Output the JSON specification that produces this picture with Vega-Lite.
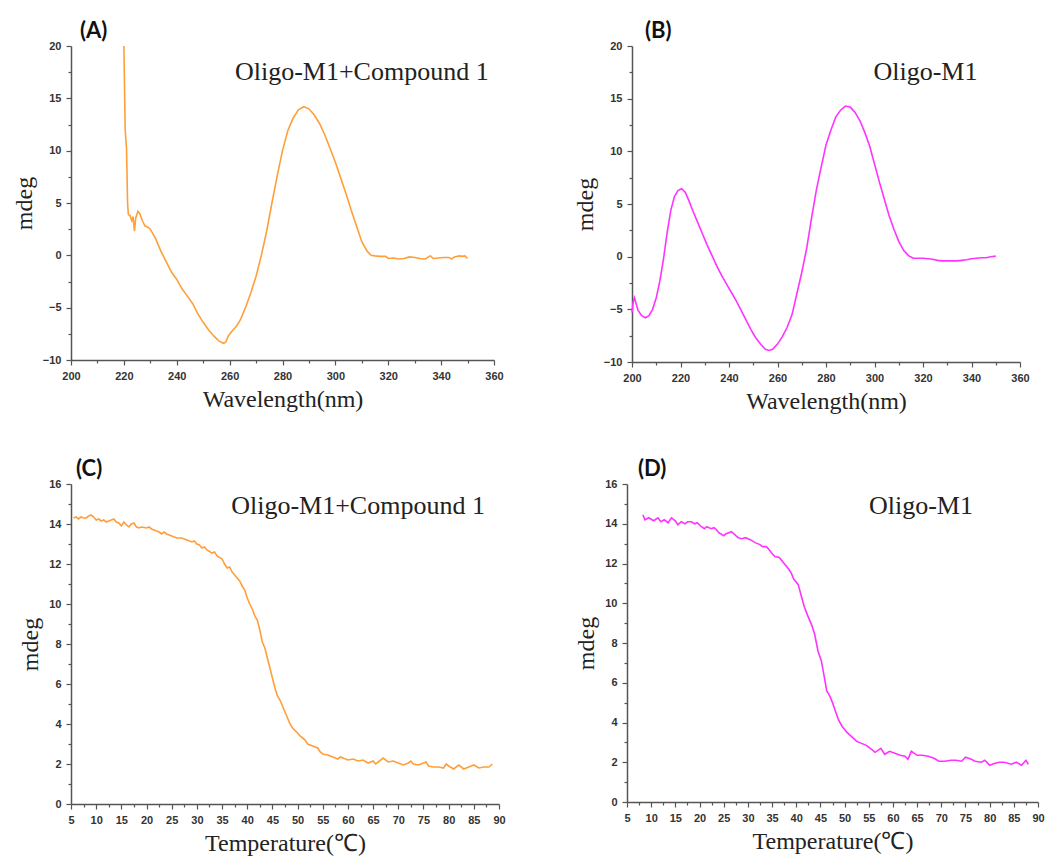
{
  "$schema": "https://vega.github.io/schema/vega-lite/v6.json",
  "background": "white",
  "padding": {"left": 12, "top": 20, "right": 5, "bottom": 5},
  "spacing": 45,
  "config": {
    "view": {"stroke": null},
    "axis": {
      "grid": false,
      "labelFont": "Liberation Sans",
      "labelFontWeight": "bold",
      "labelFontSize": 11,
      "labelColor": "#333",
      "labelFlush": false,
      "labelOverlap": false,
      "labelPadding": 5,
      "domainColor": "#555",
      "domainWidth": 1.5,
      "tickColor": "#555",
      "tickWidth": 1.2,
      "tickSize": 5,
      "titleFont": "Liberation Serif",
      "titleFontWeight": "normal",
      "titleFontSize": 24,
      "titleColor": "#222",
      "titlePadding": 6
    },
    "title": {"anchor": "start", "font": "Lato", "fontWeight": "bold", "fontSize": 22, "color": "#111", "offset": -3, "frame": "group"}
  },
  "datasets": {
    "a": [
      {"wavelength": 220, "mdeg": 20}, {"wavelength": 220.5, "mdeg": 12}, {"wavelength": 221, "mdeg": 10.2}, {"wavelength": 221.4, "mdeg": 5},
      {"wavelength": 221.7, "mdeg": 3.9}, {"wavelength": 222.3, "mdeg": 3.8}, {"wavelength": 223, "mdeg": 3.3}, {"wavelength": 223.5, "mdeg": 3.7},
      {"wavelength": 224, "mdeg": 2.3}, {"wavelength": 224.5, "mdeg": 3.6}, {"wavelength": 225.3, "mdeg": 4.2}, {"wavelength": 226, "mdeg": 4.0},
      {"wavelength": 227, "mdeg": 3.3}, {"wavelength": 228, "mdeg": 2.8}, {"wavelength": 229, "mdeg": 2.7}, {"wavelength": 230, "mdeg": 2.5},
      {"wavelength": 232, "mdeg": 1.6}, {"wavelength": 234, "mdeg": 0.4}, {"wavelength": 236, "mdeg": -0.6}, {"wavelength": 238, "mdeg": -1.6},
      {"wavelength": 240, "mdeg": -2.3}, {"wavelength": 242, "mdeg": -3.2}, {"wavelength": 244, "mdeg": -3.9}, {"wavelength": 246, "mdeg": -4.6},
      {"wavelength": 248, "mdeg": -5.6}, {"wavelength": 250, "mdeg": -6.4}, {"wavelength": 252, "mdeg": -7.1}, {"wavelength": 254, "mdeg": -7.7},
      {"wavelength": 256, "mdeg": -8.2}, {"wavelength": 257.7, "mdeg": -8.4}, {"wavelength": 258.5, "mdeg": -8.3}, {"wavelength": 259.5, "mdeg": -7.7},
      {"wavelength": 261, "mdeg": -7.2}, {"wavelength": 262.5, "mdeg": -6.8}, {"wavelength": 264, "mdeg": -6.2}, {"wavelength": 266, "mdeg": -5.0},
      {"wavelength": 268, "mdeg": -3.6}, {"wavelength": 270, "mdeg": -2.0}, {"wavelength": 272, "mdeg": 0.0}, {"wavelength": 274, "mdeg": 2.3},
      {"wavelength": 276, "mdeg": 5.0}, {"wavelength": 278, "mdeg": 7.6}, {"wavelength": 280, "mdeg": 10.0}, {"wavelength": 282, "mdeg": 11.9},
      {"wavelength": 284, "mdeg": 13.1}, {"wavelength": 286, "mdeg": 13.9}, {"wavelength": 288, "mdeg": 14.2}, {"wavelength": 290, "mdeg": 14.0},
      {"wavelength": 292, "mdeg": 13.4}, {"wavelength": 294, "mdeg": 12.6}, {"wavelength": 296, "mdeg": 11.5}, {"wavelength": 298, "mdeg": 10.2},
      {"wavelength": 300, "mdeg": 8.9}, {"wavelength": 302, "mdeg": 7.4}, {"wavelength": 304, "mdeg": 5.9}, {"wavelength": 306, "mdeg": 4.3},
      {"wavelength": 308, "mdeg": 2.8}, {"wavelength": 310, "mdeg": 1.3}, {"wavelength": 312, "mdeg": 0.4}, {"wavelength": 313.5, "mdeg": 0.0},
      {"wavelength": 315, "mdeg": -0.05}, {"wavelength": 317, "mdeg": -0.1}, {"wavelength": 319, "mdeg": -0.1}, {"wavelength": 320, "mdeg": -0.3},
      {"wavelength": 322, "mdeg": -0.25}, {"wavelength": 324, "mdeg": -0.35}, {"wavelength": 326, "mdeg": -0.3}, {"wavelength": 328, "mdeg": -0.15},
      {"wavelength": 330, "mdeg": -0.2}, {"wavelength": 332, "mdeg": -0.3}, {"wavelength": 334, "mdeg": -0.35}, {"wavelength": 335.5, "mdeg": -0.1},
      {"wavelength": 336, "mdeg": -0.05}, {"wavelength": 337, "mdeg": -0.3}, {"wavelength": 339, "mdeg": -0.25}, {"wavelength": 341, "mdeg": -0.2},
      {"wavelength": 343, "mdeg": -0.2}, {"wavelength": 344, "mdeg": -0.35}, {"wavelength": 345, "mdeg": -0.15}, {"wavelength": 347, "mdeg": -0.05},
      {"wavelength": 348, "mdeg": -0.1}, {"wavelength": 349, "mdeg": -0.05}, {"wavelength": 350, "mdeg": -0.3}
    ],
    "b": [
      {"wavelength": 200, "mdeg": -5.3}, {"wavelength": 200.5, "mdeg": -4.3}, {"wavelength": 201, "mdeg": -3.9}, {"wavelength": 201.5, "mdeg": -4.3},
      {"wavelength": 202.5, "mdeg": -5.1}, {"wavelength": 204, "mdeg": -5.6}, {"wavelength": 205.5, "mdeg": -5.8}, {"wavelength": 207, "mdeg": -5.6},
      {"wavelength": 208.5, "mdeg": -5.0}, {"wavelength": 210, "mdeg": -3.9}, {"wavelength": 211.5, "mdeg": -2.3}, {"wavelength": 213, "mdeg": -0.2},
      {"wavelength": 214.5, "mdeg": 2.3}, {"wavelength": 216, "mdeg": 4.4}, {"wavelength": 217.5, "mdeg": 5.7}, {"wavelength": 219, "mdeg": 6.3},
      {"wavelength": 220.5, "mdeg": 6.45}, {"wavelength": 222, "mdeg": 6.1}, {"wavelength": 223.5, "mdeg": 5.3}, {"wavelength": 225, "mdeg": 4.4},
      {"wavelength": 227, "mdeg": 3.3}, {"wavelength": 229, "mdeg": 2.2}, {"wavelength": 231, "mdeg": 1.1}, {"wavelength": 233, "mdeg": 0.1},
      {"wavelength": 235, "mdeg": -0.9}, {"wavelength": 237, "mdeg": -1.8}, {"wavelength": 239, "mdeg": -2.6}, {"wavelength": 241, "mdeg": -3.4},
      {"wavelength": 243, "mdeg": -4.2}, {"wavelength": 245, "mdeg": -5.1}, {"wavelength": 247, "mdeg": -6.0}, {"wavelength": 249, "mdeg": -6.9},
      {"wavelength": 251, "mdeg": -7.7}, {"wavelength": 253, "mdeg": -8.3}, {"wavelength": 255, "mdeg": -8.8}, {"wavelength": 256.5, "mdeg": -8.9},
      {"wavelength": 258, "mdeg": -8.8}, {"wavelength": 260, "mdeg": -8.3}, {"wavelength": 262, "mdeg": -7.6}, {"wavelength": 264, "mdeg": -6.7},
      {"wavelength": 266, "mdeg": -5.5}, {"wavelength": 268, "mdeg": -3.5}, {"wavelength": 270, "mdeg": -1.5}, {"wavelength": 272, "mdeg": 0.75},
      {"wavelength": 274, "mdeg": 3.6}, {"wavelength": 276, "mdeg": 6.3}, {"wavelength": 278, "mdeg": 8.5}, {"wavelength": 280, "mdeg": 10.6},
      {"wavelength": 282, "mdeg": 12.0}, {"wavelength": 284, "mdeg": 13.25}, {"wavelength": 286, "mdeg": 13.9}, {"wavelength": 288, "mdeg": 14.3},
      {"wavelength": 290, "mdeg": 14.2}, {"wavelength": 292, "mdeg": 13.7}, {"wavelength": 294, "mdeg": 12.9}, {"wavelength": 296, "mdeg": 11.8},
      {"wavelength": 298, "mdeg": 10.5}, {"wavelength": 300, "mdeg": 8.8}, {"wavelength": 302, "mdeg": 7.1}, {"wavelength": 304, "mdeg": 5.5},
      {"wavelength": 306, "mdeg": 3.9}, {"wavelength": 308, "mdeg": 2.6}, {"wavelength": 310, "mdeg": 1.45}, {"wavelength": 312, "mdeg": 0.6},
      {"wavelength": 314, "mdeg": 0.1}, {"wavelength": 316, "mdeg": -0.15}, {"wavelength": 318, "mdeg": -0.15}, {"wavelength": 320, "mdeg": -0.15},
      {"wavelength": 322, "mdeg": -0.2}, {"wavelength": 324, "mdeg": -0.25}, {"wavelength": 326, "mdeg": -0.35}, {"wavelength": 328, "mdeg": -0.4},
      {"wavelength": 330, "mdeg": -0.4}, {"wavelength": 332, "mdeg": -0.4}, {"wavelength": 334, "mdeg": -0.4}, {"wavelength": 336, "mdeg": -0.35},
      {"wavelength": 338, "mdeg": -0.3}, {"wavelength": 340, "mdeg": -0.2}, {"wavelength": 342, "mdeg": -0.15}, {"wavelength": 344, "mdeg": -0.1},
      {"wavelength": 346, "mdeg": -0.1}, {"wavelength": 348, "mdeg": 0.0}, {"wavelength": 350, "mdeg": 0.05}
    ],
    "c": [
      {"temperature": 5.5, "mdeg": 14.3}, {"temperature": 6, "mdeg": 14.35}, {"temperature": 6.5, "mdeg": 14.25}, {"temperature": 7, "mdeg": 14.35},
      {"temperature": 7.5, "mdeg": 14.3}, {"temperature": 8, "mdeg": 14.3}, {"temperature": 8.5, "mdeg": 14.4}, {"temperature": 9, "mdeg": 14.45},
      {"temperature": 9.5, "mdeg": 14.35}, {"temperature": 10, "mdeg": 14.2}, {"temperature": 10.5, "mdeg": 14.25}, {"temperature": 11, "mdeg": 14.15},
      {"temperature": 11.5, "mdeg": 14.2}, {"temperature": 12, "mdeg": 14.1}, {"temperature": 12.5, "mdeg": 14.15}, {"temperature": 13, "mdeg": 14.2},
      {"temperature": 13.5, "mdeg": 14.25}, {"temperature": 14, "mdeg": 14.1}, {"temperature": 14.5, "mdeg": 14.05}, {"temperature": 15, "mdeg": 13.9},
      {"temperature": 15.5, "mdeg": 14.1}, {"temperature": 16, "mdeg": 13.95}, {"temperature": 16.5, "mdeg": 13.85}, {"temperature": 17, "mdeg": 14.0},
      {"temperature": 17.5, "mdeg": 14.05}, {"temperature": 18, "mdeg": 13.85}, {"temperature": 18.5, "mdeg": 13.8}, {"temperature": 19, "mdeg": 13.85},
      {"temperature": 20, "mdeg": 13.8}, {"temperature": 20.5, "mdeg": 13.85}, {"temperature": 21, "mdeg": 13.75}, {"temperature": 22, "mdeg": 13.65},
      {"temperature": 22.5, "mdeg": 13.6}, {"temperature": 23, "mdeg": 13.5}, {"temperature": 23.5, "mdeg": 13.6}, {"temperature": 24, "mdeg": 13.5},
      {"temperature": 25, "mdeg": 13.4}, {"temperature": 25.5, "mdeg": 13.35}, {"temperature": 26, "mdeg": 13.3}, {"temperature": 27, "mdeg": 13.3},
      {"temperature": 27.5, "mdeg": 13.25}, {"temperature": 28, "mdeg": 13.2}, {"temperature": 29, "mdeg": 13.1}, {"temperature": 29.5, "mdeg": 13.15},
      {"temperature": 30, "mdeg": 13.0}, {"temperature": 30.5, "mdeg": 12.95}, {"temperature": 31, "mdeg": 12.8}, {"temperature": 31.5, "mdeg": 12.85},
      {"temperature": 32, "mdeg": 12.7}, {"temperature": 33, "mdeg": 12.55}, {"temperature": 33.5, "mdeg": 12.6}, {"temperature": 34, "mdeg": 12.4},
      {"temperature": 35, "mdeg": 12.25}, {"temperature": 35.5, "mdeg": 12.0}, {"temperature": 36, "mdeg": 11.8}, {"temperature": 36.5, "mdeg": 11.85},
      {"temperature": 37, "mdeg": 11.6}, {"temperature": 38, "mdeg": 11.3}, {"temperature": 38.5, "mdeg": 11.15}, {"temperature": 39, "mdeg": 10.9},
      {"temperature": 39.5, "mdeg": 10.7}, {"temperature": 40, "mdeg": 10.3}, {"temperature": 40.5, "mdeg": 10.0}, {"temperature": 41, "mdeg": 9.75},
      {"temperature": 41.5, "mdeg": 9.4}, {"temperature": 42, "mdeg": 9.2}, {"temperature": 42.5, "mdeg": 8.7}, {"temperature": 43, "mdeg": 8.1},
      {"temperature": 43.5, "mdeg": 7.8}, {"temperature": 44, "mdeg": 7.3}, {"temperature": 44.5, "mdeg": 6.8}, {"temperature": 45, "mdeg": 6.3},
      {"temperature": 45.5, "mdeg": 5.8}, {"temperature": 46, "mdeg": 5.4}, {"temperature": 46.5, "mdeg": 5.2}, {"temperature": 47, "mdeg": 4.9},
      {"temperature": 47.5, "mdeg": 4.6}, {"temperature": 48, "mdeg": 4.3}, {"temperature": 48.5, "mdeg": 4.0}, {"temperature": 49, "mdeg": 3.8},
      {"temperature": 50, "mdeg": 3.55}, {"temperature": 50.5, "mdeg": 3.4}, {"temperature": 51, "mdeg": 3.3}, {"temperature": 51.5, "mdeg": 3.2},
      {"temperature": 52, "mdeg": 3.0}, {"temperature": 53, "mdeg": 2.9}, {"temperature": 54, "mdeg": 2.8}, {"temperature": 54.5, "mdeg": 2.6},
      {"temperature": 55, "mdeg": 2.5}, {"temperature": 56, "mdeg": 2.45}, {"temperature": 57, "mdeg": 2.35}, {"temperature": 58, "mdeg": 2.25},
      {"temperature": 58.5, "mdeg": 2.35}, {"temperature": 59, "mdeg": 2.3}, {"temperature": 60, "mdeg": 2.2}, {"temperature": 61, "mdeg": 2.25},
      {"temperature": 62, "mdeg": 2.15}, {"temperature": 63, "mdeg": 2.2}, {"temperature": 64, "mdeg": 2.05}, {"temperature": 65, "mdeg": 2.15},
      {"temperature": 65.5, "mdeg": 2.0}, {"temperature": 66, "mdeg": 2.1}, {"temperature": 67, "mdeg": 2.3}, {"temperature": 68, "mdeg": 2.1},
      {"temperature": 69, "mdeg": 2.15}, {"temperature": 70, "mdeg": 2.05}, {"temperature": 71, "mdeg": 1.95}, {"temperature": 72, "mdeg": 2.05},
      {"temperature": 72.5, "mdeg": 2.15}, {"temperature": 73, "mdeg": 2.0}, {"temperature": 74, "mdeg": 1.95}, {"temperature": 75, "mdeg": 2.05},
      {"temperature": 75.5, "mdeg": 2.1}, {"temperature": 76, "mdeg": 1.9}, {"temperature": 77, "mdeg": 1.85}, {"temperature": 78, "mdeg": 1.85},
      {"temperature": 79, "mdeg": 1.8}, {"temperature": 79.5, "mdeg": 2.0}, {"temperature": 80, "mdeg": 1.9}, {"temperature": 81, "mdeg": 1.75},
      {"temperature": 82, "mdeg": 1.95}, {"temperature": 83, "mdeg": 1.75}, {"temperature": 84, "mdeg": 1.85}, {"temperature": 85, "mdeg": 1.95},
      {"temperature": 86, "mdeg": 1.8}, {"temperature": 87, "mdeg": 1.85}, {"temperature": 88, "mdeg": 1.85}, {"temperature": 88.7, "mdeg": 2.0}
    ],
    "d": [
      {"temperature": 8.3, "mdeg": 14.45}, {"temperature": 8.7, "mdeg": 14.2}, {"temperature": 9.5, "mdeg": 14.3}, {"temperature": 10.5, "mdeg": 14.15},
      {"temperature": 11.4, "mdeg": 14.3}, {"temperature": 12, "mdeg": 14.1}, {"temperature": 12.7, "mdeg": 14.2}, {"temperature": 13.5, "mdeg": 14.05},
      {"temperature": 14.2, "mdeg": 14.3}, {"temperature": 15, "mdeg": 14.15}, {"temperature": 15.5, "mdeg": 13.95}, {"temperature": 16.2, "mdeg": 14.1},
      {"temperature": 17, "mdeg": 14.0}, {"temperature": 17.5, "mdeg": 14.1}, {"temperature": 18.3, "mdeg": 14.1}, {"temperature": 19, "mdeg": 14.0},
      {"temperature": 19.5, "mdeg": 14.05}, {"temperature": 20.4, "mdeg": 13.85}, {"temperature": 21, "mdeg": 13.75}, {"temperature": 21.5, "mdeg": 13.85},
      {"temperature": 22.4, "mdeg": 13.75}, {"temperature": 23, "mdeg": 13.8}, {"temperature": 23.5, "mdeg": 13.7}, {"temperature": 24, "mdeg": 13.55},
      {"temperature": 25, "mdeg": 13.4}, {"temperature": 25.5, "mdeg": 13.5}, {"temperature": 26.6, "mdeg": 13.6}, {"temperature": 27.5, "mdeg": 13.4},
      {"temperature": 28, "mdeg": 13.3}, {"temperature": 28.7, "mdeg": 13.25}, {"temperature": 29.5, "mdeg": 13.3}, {"temperature": 30.5, "mdeg": 13.2},
      {"temperature": 31.5, "mdeg": 13.05}, {"temperature": 32.5, "mdeg": 12.95}, {"temperature": 33, "mdeg": 12.85}, {"temperature": 33.8, "mdeg": 12.85},
      {"temperature": 34.2, "mdeg": 12.75}, {"temperature": 35, "mdeg": 12.5}, {"temperature": 35.6, "mdeg": 12.35}, {"temperature": 36.5, "mdeg": 12.3},
      {"temperature": 37.5, "mdeg": 12.0}, {"temperature": 38.5, "mdeg": 11.7}, {"temperature": 39, "mdeg": 11.5}, {"temperature": 39.5, "mdeg": 11.2},
      {"temperature": 40.4, "mdeg": 10.95}, {"temperature": 41, "mdeg": 10.4}, {"temperature": 41.7, "mdeg": 9.8}, {"temperature": 42.5, "mdeg": 9.3},
      {"temperature": 43.2, "mdeg": 8.9}, {"temperature": 43.8, "mdeg": 8.45}, {"temperature": 44.5, "mdeg": 7.6}, {"temperature": 45.2, "mdeg": 7.1},
      {"temperature": 45.8, "mdeg": 6.3}, {"temperature": 46.3, "mdeg": 5.6}, {"temperature": 47, "mdeg": 5.3}, {"temperature": 47.5, "mdeg": 5.0},
      {"temperature": 48.2, "mdeg": 4.5}, {"temperature": 48.8, "mdeg": 4.1}, {"temperature": 49.5, "mdeg": 3.8}, {"temperature": 50.5, "mdeg": 3.5},
      {"temperature": 51.4, "mdeg": 3.3}, {"temperature": 52.5, "mdeg": 3.05}, {"temperature": 53.5, "mdeg": 2.95}, {"temperature": 54.5, "mdeg": 2.85},
      {"temperature": 55.6, "mdeg": 2.65}, {"temperature": 56.3, "mdeg": 2.5}, {"temperature": 57.5, "mdeg": 2.7}, {"temperature": 58.3, "mdeg": 2.4},
      {"temperature": 59.3, "mdeg": 2.55}, {"temperature": 60.4, "mdeg": 2.45}, {"temperature": 61.5, "mdeg": 2.35}, {"temperature": 62.5, "mdeg": 2.3},
      {"temperature": 63.1, "mdeg": 2.15}, {"temperature": 63.8, "mdeg": 2.55}, {"temperature": 65, "mdeg": 2.35}, {"temperature": 66, "mdeg": 2.35},
      {"temperature": 67.3, "mdeg": 2.3}, {"temperature": 68.5, "mdeg": 2.2}, {"temperature": 69.5, "mdeg": 2.05}, {"temperature": 70.7, "mdeg": 2.05},
      {"temperature": 72, "mdeg": 2.1}, {"temperature": 73, "mdeg": 2.1}, {"temperature": 74.2, "mdeg": 2.05}, {"temperature": 75, "mdeg": 2.25},
      {"temperature": 76.2, "mdeg": 2.15}, {"temperature": 77, "mdeg": 2.05}, {"temperature": 78.3, "mdeg": 2.0}, {"temperature": 79, "mdeg": 2.1},
      {"temperature": 80, "mdeg": 1.85}, {"temperature": 81.1, "mdeg": 1.95}, {"temperature": 82, "mdeg": 2.0}, {"temperature": 83, "mdeg": 2.0},
      {"temperature": 84.5, "mdeg": 1.9}, {"temperature": 85.5, "mdeg": 2.0}, {"temperature": 86.6, "mdeg": 1.85}, {"temperature": 87.5, "mdeg": 2.1},
      {"temperature": 88, "mdeg": 1.9}
    ]
  },
  "vconcat": [
    {
      "bounds": "flush",
      "spacing": 138,
      "hconcat": [
        {
          "width": 423, "height": 314,
          "title": {"text": "(A)", "dx": 9},
          "data": {"name": "a"},
          "layer": [
            {
              "mark": {"type": "line", "color": "#FF9F3A", "strokeWidth": 1.6},
              "encoding": {
                "x": {"field": "wavelength", "type": "quantitative", "scale": {"domain": [200, 360], "nice": false, "zero": false},
                      "axis": {"values": [200, 220, 240, 260, 280, 300, 320, 340, 360], "title": "Wavelength(nm)"}},
                "y": {"field": "mdeg", "type": "quantitative", "scale": {"domain": [-10, 20], "nice": false, "zero": false},
                      "axis": {"values": [-10, -5, 0, 5, 10, 15, 20], "title": "mdeg"}}
              }
            },
            {
              "data": {"values": [{"label": "Oligo-M1+Compound 1"}]},
              "mark": {"type": "text", "font": "Liberation Serif", "fontSize": 26, "color": "#222"},
              "encoding": {
                "text": {"field": "label"},
                "x": {"datum": 310, "type": "quantitative",
                      "axis": {"orient": "bottom", "values": [210, 230, 250, 270, 290, 310, 330, 350], "labels": false, "domain": false, "tickSize": 3, "title": null}},
                "y": {"datum": 17.5, "type": "quantitative",
                      "axis": {"orient": "left", "values": [-7.5, -2.5, 2.5, 7.5, 12.5, 17.5], "labels": false, "domain": false, "tickSize": 3, "title": null}}
              }
            }
          ],
          "resolve": {"axis": {"x": "independent", "y": "independent"}}
        },
        {
          "width": 388, "height": 316,
          "title": {"text": "(B)", "dx": 13},
          "data": {"name": "b"},
          "layer": [
            {
              "mark": {"type": "line", "color": "#FF33FF", "strokeWidth": 1.6},
              "encoding": {
                "x": {"field": "wavelength", "type": "quantitative", "scale": {"domain": [200, 360], "nice": false, "zero": false},
                      "axis": {"values": [200, 220, 240, 260, 280, 300, 320, 340, 360], "title": "Wavelength(nm)"}},
                "y": {"field": "mdeg", "type": "quantitative", "scale": {"domain": [-10, 20], "nice": false, "zero": false},
                      "axis": {"values": [-10, -5, 0, 5, 10, 15, 20], "title": "mdeg"}}
              }
            },
            {
              "data": {"values": [{"label": "Oligo-M1"}]},
              "mark": {"type": "text", "font": "Liberation Serif", "fontSize": 26, "color": "#222"},
              "encoding": {
                "text": {"field": "label"},
                "x": {"datum": 321, "type": "quantitative",
                      "axis": {"orient": "bottom", "values": [210, 230, 250, 270, 290, 310, 330, 350], "labels": false, "domain": false, "tickSize": 3, "title": null}},
                "y": {"datum": 17.5, "type": "quantitative",
                      "axis": {"orient": "left", "values": [-7.5, -2.5, 2.5, 7.5, 12.5, 17.5], "labels": false, "domain": false, "tickSize": 3, "title": null}}
              }
            }
          ],
          "resolve": {"axis": {"x": "independent", "y": "independent"}}
        }
      ]
    },
    {
      "bounds": "flush",
      "spacing": 128,
      "hconcat": [
        {
          "width": 428, "height": 320,
          "title": {"text": "(C)", "dx": 5},
          "data": {"name": "c"},
          "layer": [
            {
              "mark": {"type": "line", "color": "#FF9F3A", "strokeWidth": 1.6},
              "encoding": {
                "x": {"field": "temperature", "type": "quantitative", "scale": {"domain": [5, 90], "nice": false, "zero": false},
                      "axis": {"values": [5, 10, 15, 20, 25, 30, 35, 40, 45, 50, 55, 60, 65, 70, 75, 80, 85, 90], "title": "Temperature(℃)"}},
                "y": {"field": "mdeg", "type": "quantitative", "scale": {"domain": [0, 16], "nice": false, "zero": false},
                      "axis": {"values": [0, 2, 4, 6, 8, 10, 12, 14, 16], "title": "mdeg"}}
              }
            },
            {
              "data": {"values": [{"label": "Oligo-M1+Compound 1"}]},
              "mark": {"type": "text", "font": "Liberation Serif", "fontSize": 26, "color": "#222"},
              "encoding": {
                "text": {"field": "label"},
                "x": {"datum": 62, "type": "quantitative",
                      "axis": {"orient": "bottom", "values": [7.5, 12.5, 17.5, 22.5, 27.5, 32.5, 37.5, 42.5, 47.5, 52.5, 57.5, 62.5, 67.5, 72.5, 77.5, 82.5, 87.5], "labels": false, "domain": false, "tickSize": 3, "title": null}},
                "y": {"datum": 14.9, "type": "quantitative",
                      "axis": {"orient": "left", "values": [1, 3, 5, 7, 9, 11, 13, 15], "labels": false, "domain": false, "tickSize": 3, "title": null}}
              }
            }
          ],
          "resolve": {"axis": {"x": "independent", "y": "independent"}}
        },
        {
          "width": 411, "height": 318,
          "title": {"text": "(D)", "dx": 11},
          "data": {"name": "d"},
          "layer": [
            {
              "mark": {"type": "line", "color": "#FF33FF", "strokeWidth": 1.6},
              "encoding": {
                "x": {"field": "temperature", "type": "quantitative", "scale": {"domain": [5, 90], "nice": false, "zero": false},
                      "axis": {"values": [5, 10, 15, 20, 25, 30, 35, 40, 45, 50, 55, 60, 65, 70, 75, 80, 85, 90], "title": "Temperature(℃)"}},
                "y": {"field": "mdeg", "type": "quantitative", "scale": {"domain": [0, 16], "nice": false, "zero": false},
                      "axis": {"values": [0, 2, 4, 6, 8, 10, 12, 14, 16], "title": "mdeg"}}
              }
            },
            {
              "data": {"values": [{"label": "Oligo-M1"}]},
              "mark": {"type": "text", "font": "Liberation Serif", "fontSize": 26, "color": "#222"},
              "encoding": {
                "text": {"field": "label"},
                "x": {"datum": 65.8, "type": "quantitative",
                      "axis": {"orient": "bottom", "values": [7.5, 12.5, 17.5, 22.5, 27.5, 32.5, 37.5, 42.5, 47.5, 52.5, 57.5, 62.5, 67.5, 72.5, 77.5, 82.5, 87.5], "labels": false, "domain": false, "tickSize": 3, "title": null}},
                "y": {"datum": 14.9, "type": "quantitative",
                      "axis": {"orient": "left", "values": [1, 3, 5, 7, 9, 11, 13, 15], "labels": false, "domain": false, "tickSize": 3, "title": null}}
              }
            }
          ],
          "resolve": {"axis": {"x": "independent", "y": "independent"}}
        }
      ]
    }
  ]
}
